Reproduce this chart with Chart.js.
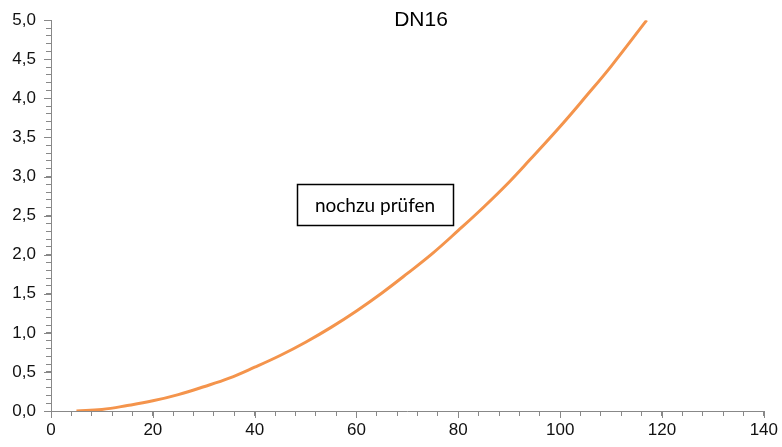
<!DOCTYPE html>
<html>
<head>
<meta charset="utf-8">
<script src="https://cdn.jsdelivr.net/npm/chart.js@4"></script>
<style>
  html, body { margin: 0; padding: 0; background: #fff; }
  #wrap { width: 782px; height: 447px; }
</style>
</head>
<body>
<div id="wrap"><canvas id="chart" width="782" height="447"></canvas></div>
<script>
// flow values (x) and pressure loss (y)
const flowValues = [5, 10, 15, 20, 25, 30, 35, 40, 45, 50, 55, 60, 65, 70, 75, 80, 85, 90, 94, 100, 105, 110, 117];
const lossValues = [0.00, 0.02, 0.07, 0.13, 0.21, 0.31, 0.42, 0.56, 0.71, 0.88, 1.07, 1.28, 1.51, 1.76, 2.02, 2.31, 2.61, 2.93, 3.21, 3.64, 4.02, 4.41, 5.00];
const chartTitle = 'DN16';
const noteText = 'nochzu prüfen';

const points = flowValues.map((x, i) => ({ x: x, y: lossValues[i] }));

// title and note box drawn on top of the chart area
const overlay = {
    id: 'overlay',
    afterDraw(chart) {
        const c = chart.ctx;
        c.save();
        c.fillStyle = '#000';
        c.font = '21px "Liberation Sans", Arial, sans-serif';
        c.textAlign = 'center';
        c.textBaseline = 'middle';
        c.fillText(chartTitle, 421, 20);

        c.strokeStyle = '#000';
        c.lineWidth = 1.5;
        c.strokeRect(297.5, 184.5, 156, 41);
        c.font = '19px Lato, "Noto Sans", sans-serif';
        c.fillText(noteText, 375, 206);
        c.restore();
    }
};

// longer marks at the labelled ticks
const majorTicks = {
    id: 'majorTicks',
    afterDraw(chart) {
        const c = chart.ctx;
        const xs = chart.scales.x, ys = chart.scales.y;
        c.save();
        c.strokeStyle = '#888';
        c.lineWidth = 1;
        c.beginPath();
        for (let v = 0; v <= 140; v += 20) {
            const px = Math.round(xs.getPixelForValue(v)) + 0.5;
            c.moveTo(px, ys.bottom);
            c.lineTo(px, ys.bottom + 7);
        }
        for (let v = 0; v <= 5.0001; v += 0.5) {
            const py = Math.round(ys.getPixelForValue(v)) + 0.5;
            c.moveTo(xs.left, py);
            c.lineTo(xs.left - 7, py);
        }
        c.stroke();
        c.restore();
    }
};

new Chart(document.getElementById('chart'), {
    type: 'scatter',
    data: {
        datasets: [{
            data: points,
            showLine: true,
            borderColor: '#F4944C',
            borderWidth: 3,
            pointRadius: 0,
            tension: 0.4
        }]
    },
    options: {
        responsive: false,
        animation: false,
        layout: { padding: { left: 0, right: 17, top: 20, bottom: 0 } },
        plugins: {
            legend: { display: false },
            tooltip: { enabled: false }
        },
        scales: {
            x: {
                type: 'linear',
                min: 0,
                max: 140,
                afterFit(scale) { scale.height = 36; },
                grid: { drawOnChartArea: false, drawTicks: true, tickLength: 5, color: '#888' },
                border: { color: '#888' },
                ticks: {
                    stepSize: 4,
                    autoSkip: false,
                    maxRotation: 0,
                    padding: 4,
                    color: '#111',
                    font: { family: '"Liberation Sans", Arial, sans-serif', size: 17 },
                    callback: v => (v % 20 === 0 ? String(v) : '')
                }
            },
            y: {
                min: 0,
                max: 5,
                afterFit(scale) { scale.width = 51; },
                grid: { drawOnChartArea: false, drawTicks: true, tickLength: 5, color: '#888' },
                border: { color: '#888' },
                ticks: {
                    stepSize: 0.1,
                    autoSkip: false,
                    padding: 10,
                    color: '#111',
                    font: { family: '"Liberation Sans", Arial, sans-serif', size: 17 },
                    callback: v => {
                        const r = Math.round(v * 10);
                        return r % 5 === 0 ? (r / 10).toFixed(1).replace('.', ',') : '';
                    }
                }
            }
        }
    },
    plugins: [overlay, majorTicks]
});
</script>
</body>
</html>
